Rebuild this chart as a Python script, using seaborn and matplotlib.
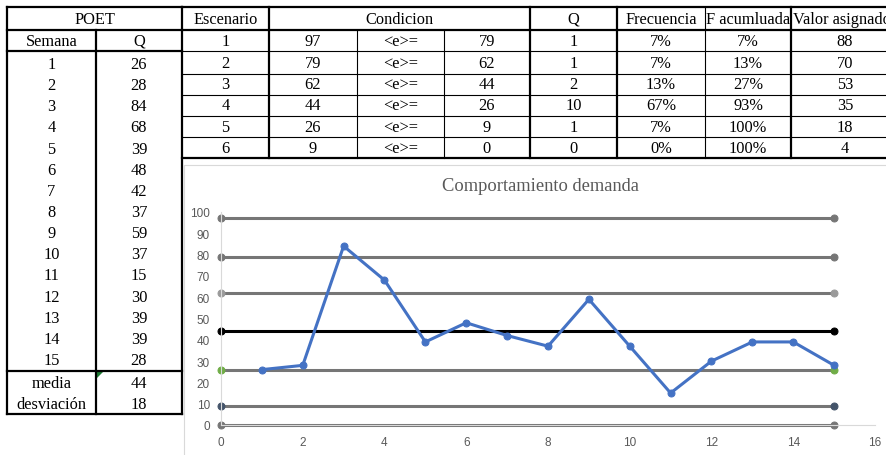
import matplotlib
matplotlib.use("Agg")
import matplotlib.pyplot as plt
from matplotlib.patches import Rectangle, Polygon
import seaborn as sns

# POET table: weekly demand
semana = list(range(1, 16))
demanda = [26, 28, 84, 68, 39, 48, 42, 37, 59, 37, 15, 30, 39, 39, 28]
media = 44
desviacion = 18

# Scenario table
escenario = [1, 2, 3, 4, 5, 6]
cond_sup = [97, 79, 62, 44, 26, 9]
cond_inf = [79, 62, 44, 26, 9, 0]
frec_q = [1, 1, 2, 10, 1, 0]
frecuencia = ["7%", "7%", "13%", "67%", "7%", "0%"]
f_acum = ["7%", "13%", "27%", "93%", "100%", "100%"]
valor_asignado = [88, 70, 53, 35, 18, 4]

# Limit lines drawn across the chart
limites = [97, 79, 62, 44, 26, 9, 0]
limite_linea = ["#767676", "#767676", "#767676", "#000000", "#767676", "#767676", "#767676"]
limite_marca = ["#767676", "#767676", "#9a9a9a", "#000000", "#70ad47", "#44546a", "#767676"]

sns.set_style("white")
plt.rcParams["font.family"] = ["Liberation Serif", "DejaVu Serif"]

W, H = 887, 456
fig = plt.figure(figsize=(W / 100, H / 100), dpi=100)
fig.patch.set_facecolor("white")

# full-figure layer in pixel coordinates for the sheet cells
bg = fig.add_axes([0, 0, 1, 1], zorder=0)
bg.set_xlim(0, W)
bg.set_ylim(H, 0)
bg.axis("off")

THICK, THIN = 1.6, 0.8
FS = 11.8


def hline(y, x0, x1, lw):
    bg.plot([x0, x1], [y, y], color="black", lw=lw, solid_capstyle="projecting")


def vline(x, y0, y1, lw):
    bg.plot([x, x], [y0, y1], color="black", lw=lw, solid_capstyle="projecting")


def cell(x, y, s, **kw):
    bg.text(x, y, str(s), ha="center", va="center", fontsize=FS, color="black", **kw)


# --- POET table ---
hline(8, 7, 182, THICK)
hline(31, 7, 182, THICK)
hline(52, 7, 182, THICK)
hline(372, 7, 182, THICK)
hline(415, 7, 182, THICK)
vline(7, 8, 415, THICK)
vline(96, 31, 415, THICK)
vline(182, 8, 415, THICK)

cell(94.5, 20, "POET")
cell(51.5, 42, "Semana")
cell(139, 42, "Q")
for i, (s, q) in enumerate(zip(semana, demanda)):
    y = 65 + 21.14 * i
    cell(51.5, y, s)
    cell(139, y, q)
cell(51.5, 384, "media")
cell(139, 384, media)
cell(51.5, 405, "desviación")
cell(139, 405, desviacion)
bg.add_patch(Polygon([(97, 373), (103, 373), (97, 379)], closed=True,
                     color="#1e7b34", lw=0))

# --- Scenario table ---
rows = [8, 31, 52, 75, 96, 117, 138, 159]
hline(8, 182, W + 5, THICK)
hline(31, 182, W + 5, THICK)
for y in rows[2:-1]:
    hline(y, 182, W + 5, THIN)
hline(159, 182, W + 5, THICK)
for x in [269, 530, 617, 791]:
    vline(x, 8, 159, THICK)
for x in [357, 444]:
    vline(x, 31, 159, THIN)
vline(705, 8, 159, THIN)

cell(225.5, 20, "Escenario")
cell(399.5, 20, "Condicion")
cell(573.5, 20, "Q")
cell(661, 20, "Frecuencia")
cell(748, 20, "F acumluada")
bg.text(793, 20, "Valor asignado", ha="left", va="center", fontsize=FS, color="black")

centros = [42, 64, 85, 106, 128, 149]
for i, yc in enumerate(centros):
    cell(225.5, yc, escenario[i])
    cell(313, yc, cond_sup[i])
    cell(400.5, yc, "<e>=")
    cell(487, yc, cond_inf[i])
    cell(573.5, yc, frec_q[i])
    cell(661, yc, frecuencia[i])
    cell(748, yc, f_acum[i])
    cell(845, yc, valor_asignado[i])

# --- Chart frame and title ---
bg.add_patch(Rectangle((184, 166), 720, 300, fill=False, edgecolor="#d9d9d9", lw=0.8))
bg.text(540, 187, "Comportamiento demanda", ha="center", va="center",
        fontsize=13.3, color="#595959")

# --- Chart axes ---
x0, x1, y0, y1 = 221, 875, 426, 213
ax = fig.add_axes([x0 / W, (H - y0) / H, (x1 - x0) / W, (y0 - y1) / H], zorder=1)
ax.patch.set_alpha(0)

for nivel, cl, cm in zip(limites, limite_linea, limite_marca):
    sns.lineplot(x=[0, 15], y=[nivel, nivel], ax=ax, color=cl, linewidth=2.2,
                 marker="o", markersize=5, markerfacecolor=cm, markeredgecolor=cm,
                 clip_on=False, zorder=2)

sns.lineplot(x=semana, y=demanda, ax=ax, color="#4472c4", linewidth=2.2,
             marker="o", markersize=5, markerfacecolor="#4472c4",
             markeredgecolor="#4472c4", clip_on=False, zorder=3)

ax.set_xlim(0, 16)
ax.set_ylim(0, 100)
ax.set_xticks(range(0, 17, 2))
ax.set_yticks(range(0, 101, 10))
ax.set_xlabel("")
ax.set_ylabel("")
ax.tick_params(length=0, colors="#595959", labelsize=8.5, pad=8)
for lab in ax.get_xticklabels() + ax.get_yticklabels():
    lab.set_fontfamily("Liberation Sans")
for side in ["top", "right"]:
    ax.spines[side].set_visible(False)
for side in ["left", "bottom"]:
    ax.spines[side].set_color("#d9d9d9")
    ax.spines[side].set_linewidth(0.8)
ax.grid(False)

fig.savefig("out.png", dpi=100, facecolor="white")
